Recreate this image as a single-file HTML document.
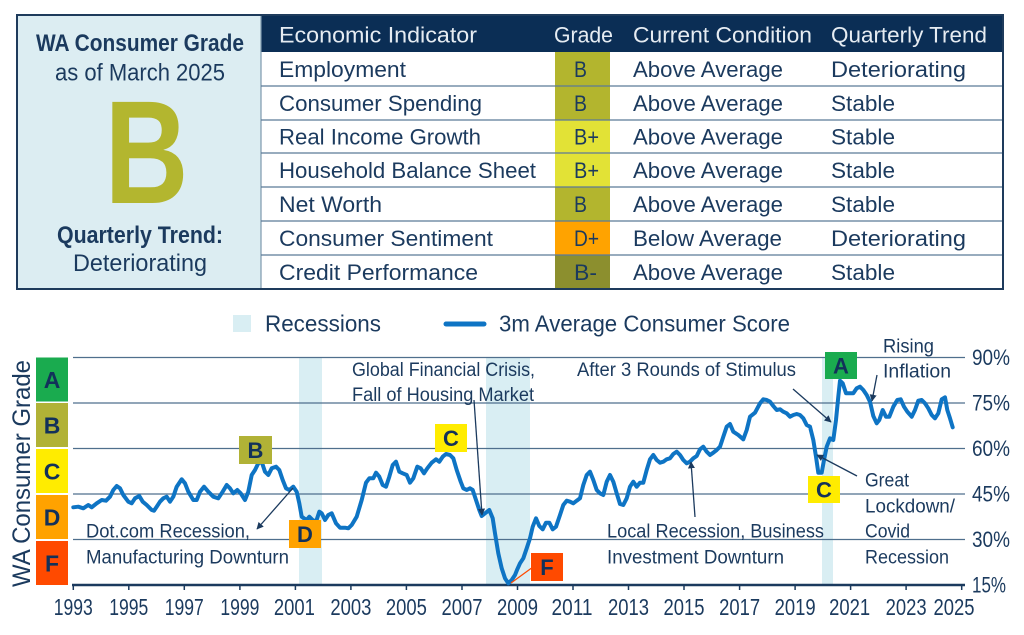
<!DOCTYPE html>
<html><head><meta charset="utf-8"><style>
html,body{margin:0;padding:0;background:#fff;}
svg{display:block;font-family:"Liberation Sans",sans-serif;}
</style></head><body>
<svg width="1024" height="635" viewBox="0 0 1024 635" xmlns="http://www.w3.org/2000/svg">
<defs>
<marker id="ah" viewBox="0 0 10 10" refX="9" refY="5" markerWidth="7" markerHeight="7" orient="auto" markerUnits="userSpaceOnUse">
<path d="M0,0 L10,5 L0,10 z" fill="#1b3a5e"/>
</marker>
</defs>
<!-- TOP BOX -->
<rect x="18" y="16" width="243" height="272" fill="#dcedf2"/>
<rect x="261" y="15" width="742" height="37" fill="#0b2e55"/>
<line x1="261" y1="16" x2="261" y2="288" stroke="#7d98ad" stroke-width="1.2"/>
<g fill="#b3b52e">
<rect x="555" y="52" width="55" height="34"/>
<rect x="555" y="86" width="55" height="34"/>
<rect x="555" y="187" width="55" height="34"/>
</g>
<rect x="555" y="120" width="55" height="67" fill="#e2e236"/>
<rect x="555" y="221" width="55" height="34" fill="#ffa300"/>
<rect x="555" y="255" width="55" height="34" fill="#8c8f2e"/>
<g stroke="#5b7a98" stroke-width="1.3">
<line x1="261" y1="86" x2="1003" y2="86"/>
<line x1="261" y1="120" x2="1003" y2="120"/>
<line x1="261" y1="153" x2="1003" y2="153"/>
<line x1="261" y1="187" x2="1003" y2="187"/>
<line x1="261" y1="221" x2="1003" y2="221"/>
<line x1="261" y1="255" x2="1003" y2="255"/>
</g>
<rect x="17" y="15" width="986" height="274" fill="none" stroke="#1e3b5c" stroke-width="2"/>

<g fill="#1b3a5e" text-anchor="middle" font-size="24">
<text x="140" y="51" font-weight="bold" textLength="208" lengthAdjust="spacingAndGlyphs">WA Consumer Grade</text>
<text x="140" y="80.5" textLength="170" lengthAdjust="spacingAndGlyphs">as of March 2025</text>
<text x="140" y="243" font-weight="bold" textLength="166" lengthAdjust="spacingAndGlyphs">Quarterly Trend:</text>
<text x="140" y="271" textLength="134" lengthAdjust="spacingAndGlyphs">Deteriorating</text>
</g>
<text transform="translate(146.5,203) scale(0.79,1)" x="0" y="0" text-anchor="middle" font-size="147" font-weight="bold" fill="#b3b62f">B</text>

<g fill="#e6ecf2" font-size="22">
<text x="279" y="42.5" textLength="198" lengthAdjust="spacingAndGlyphs">Economic Indicator</text>
<text x="554" y="42.5" textLength="59" lengthAdjust="spacingAndGlyphs">Grade</text>
<text x="633" y="42.5" textLength="179" lengthAdjust="spacingAndGlyphs">Current Condition</text>
<text x="831" y="42.5" textLength="156" lengthAdjust="spacingAndGlyphs">Quarterly Trend</text>
</g>
<g fill="#1b3a5e" font-size="22">
<text x="279" y="77" textLength="127" lengthAdjust="spacingAndGlyphs">Employment</text>
<text x="279" y="111" textLength="203" lengthAdjust="spacingAndGlyphs">Consumer Spending</text>
<text x="279" y="144.5" textLength="202" lengthAdjust="spacingAndGlyphs">Real Income Growth</text>
<text x="279" y="178" textLength="257" lengthAdjust="spacingAndGlyphs">Household Balance Sheet</text>
<text x="279" y="212" textLength="103" lengthAdjust="spacingAndGlyphs">Net Worth</text>
<text x="279" y="246" textLength="214" lengthAdjust="spacingAndGlyphs">Consumer Sentiment</text>
<text x="279" y="280" textLength="199" lengthAdjust="spacingAndGlyphs">Credit Performance</text>

<text x="574" y="77" textLength="13" lengthAdjust="spacingAndGlyphs">B</text>
<text x="574" y="111" textLength="13" lengthAdjust="spacingAndGlyphs">B</text>
<text x="574" y="144.5" textLength="25" lengthAdjust="spacingAndGlyphs">B+</text>
<text x="574" y="178" textLength="25" lengthAdjust="spacingAndGlyphs">B+</text>
<text x="574" y="212" textLength="13" lengthAdjust="spacingAndGlyphs">B</text>
<text x="574" y="246" textLength="25" lengthAdjust="spacingAndGlyphs">D+</text>
<text x="574" y="280" textLength="23" lengthAdjust="spacingAndGlyphs">B-</text>

<text x="633" y="77" textLength="150" lengthAdjust="spacingAndGlyphs">Above Average</text>
<text x="633" y="111" textLength="150" lengthAdjust="spacingAndGlyphs">Above Average</text>
<text x="633" y="144.5" textLength="150" lengthAdjust="spacingAndGlyphs">Above Average</text>
<text x="633" y="178" textLength="150" lengthAdjust="spacingAndGlyphs">Above Average</text>
<text x="633" y="212" textLength="150" lengthAdjust="spacingAndGlyphs">Above Average</text>
<text x="633" y="246" textLength="149" lengthAdjust="spacingAndGlyphs">Below Average</text>
<text x="633" y="280" textLength="150" lengthAdjust="spacingAndGlyphs">Above Average</text>

<text x="831" y="77" textLength="135" lengthAdjust="spacingAndGlyphs">Deteriorating</text>
<text x="831" y="111" textLength="64" lengthAdjust="spacingAndGlyphs">Stable</text>
<text x="831" y="144.5" textLength="64" lengthAdjust="spacingAndGlyphs">Stable</text>
<text x="831" y="178" textLength="64" lengthAdjust="spacingAndGlyphs">Stable</text>
<text x="831" y="212" textLength="64" lengthAdjust="spacingAndGlyphs">Stable</text>
<text x="831" y="246" textLength="135" lengthAdjust="spacingAndGlyphs">Deteriorating</text>
<text x="831" y="280" textLength="64" lengthAdjust="spacingAndGlyphs">Stable</text>
</g>

<!-- LEGEND -->
<rect x="233" y="315" width="18" height="17" fill="#d9eef3"/>
<text x="265" y="331.5" font-size="23" fill="#1b3a5e" textLength="116" lengthAdjust="spacingAndGlyphs">Recessions</text>
<line x1="446" y1="324" x2="484" y2="324" stroke="#0e74c4" stroke-width="5" stroke-linecap="round"/>
<text x="499" y="331.5" font-size="23" fill="#1b3a5e" textLength="291" lengthAdjust="spacingAndGlyphs">3m Average Consumer Score</text>

<!-- CHART -->
<g fill="#d9eef3">
<rect x="299" y="357" width="23" height="228"/>
<rect x="486" y="357" width="44" height="228"/>
<rect x="822" y="357" width="11" height="228"/>
</g>
<g stroke="#4f6f8d" stroke-width="1.2">
<line x1="73" y1="357.5" x2="965" y2="357.5"/>
<line x1="73" y1="403" x2="965" y2="403"/>
<line x1="73" y1="448.5" x2="965" y2="448.5"/>
<line x1="73" y1="494" x2="965" y2="494"/>
<line x1="73" y1="539.5" x2="965" y2="539.5"/>
</g>
<line x1="72" y1="585" x2="965" y2="585" stroke="#1b3a5e" stroke-width="2.5"/>
<g stroke="#1b3a5e" stroke-width="1.5">
<line x1="73.3" y1="585" x2="73.3" y2="590"/>
<line x1="128.8" y1="585" x2="128.8" y2="590"/>
<line x1="184.3" y1="585" x2="184.3" y2="590"/>
<line x1="239.9" y1="585" x2="239.9" y2="590"/>
<line x1="295.4" y1="585" x2="295.4" y2="590"/>
<line x1="350.9" y1="585" x2="350.9" y2="590"/>
<line x1="406.4" y1="585" x2="406.4" y2="590"/>
<line x1="462" y1="585" x2="462" y2="590"/>
<line x1="517.5" y1="585" x2="517.5" y2="590"/>
<line x1="573" y1="585" x2="573" y2="590"/>
<line x1="628.5" y1="585" x2="628.5" y2="590"/>
<line x1="684" y1="585" x2="684" y2="590"/>
<line x1="739.6" y1="585" x2="739.6" y2="590"/>
<line x1="795.1" y1="585" x2="795.1" y2="590"/>
<line x1="850.6" y1="585" x2="850.6" y2="590"/>
<line x1="906.1" y1="585" x2="906.1" y2="590"/>
<line x1="961.7" y1="585" x2="961.7" y2="590"/>
</g>
<g fill="#1b3a5e" font-size="23" text-anchor="middle">
<text x="73.3" y="615" textLength="39" lengthAdjust="spacingAndGlyphs">1993</text>
<text x="128.8" y="615" textLength="39" lengthAdjust="spacingAndGlyphs">1995</text>
<text x="184.3" y="615" textLength="39" lengthAdjust="spacingAndGlyphs">1997</text>
<text x="239.9" y="615" textLength="39" lengthAdjust="spacingAndGlyphs">1999</text>
<text x="294.4" y="615" textLength="41" lengthAdjust="spacingAndGlyphs">2001</text>
<text x="350.9" y="615" textLength="41" lengthAdjust="spacingAndGlyphs">2003</text>
<text x="406.4" y="615" textLength="41" lengthAdjust="spacingAndGlyphs">2005</text>
<text x="462" y="615" textLength="41" lengthAdjust="spacingAndGlyphs">2007</text>
<text x="517.5" y="615" textLength="41" lengthAdjust="spacingAndGlyphs">2009</text>
<text x="572" y="615" textLength="41" lengthAdjust="spacingAndGlyphs">2011</text>
<text x="628.5" y="615" textLength="41" lengthAdjust="spacingAndGlyphs">2013</text>
<text x="684" y="615" textLength="41" lengthAdjust="spacingAndGlyphs">2015</text>
<text x="739.6" y="615" textLength="41" lengthAdjust="spacingAndGlyphs">2017</text>
<text x="795.1" y="615" textLength="41" lengthAdjust="spacingAndGlyphs">2019</text>
<text x="849.6" y="615" textLength="41" lengthAdjust="spacingAndGlyphs">2021</text>
<text x="906.1" y="615" textLength="41" lengthAdjust="spacingAndGlyphs">2023</text>
<text x="954" y="615" textLength="41" lengthAdjust="spacingAndGlyphs">2025</text>
</g>
<g fill="#1b3a5e" font-size="22">
<text x="972" y="365" textLength="38" lengthAdjust="spacingAndGlyphs">90%</text>
<text x="972" y="410.5" textLength="38" lengthAdjust="spacingAndGlyphs">75%</text>
<text x="972" y="456" textLength="38" lengthAdjust="spacingAndGlyphs">60%</text>
<text x="972" y="501.5" textLength="38" lengthAdjust="spacingAndGlyphs">45%</text>
<text x="972" y="547" textLength="38" lengthAdjust="spacingAndGlyphs">30%</text>
<text x="972" y="592.5" textLength="34" lengthAdjust="spacingAndGlyphs">15%</text>
</g>

<!-- Y title -->
<text transform="translate(30,473.5) rotate(-90)" x="0" y="0" text-anchor="middle" font-size="25" fill="#1b3a5e" textLength="227" lengthAdjust="spacingAndGlyphs">WA Consumer Grade</text>

<!-- Grade bands -->
<rect x="36" y="357.5" width="32" height="44" fill="#1aab4f"/>
<rect x="36" y="403" width="32" height="44" fill="#b1b236"/>
<rect x="36" y="449" width="32" height="44" fill="#ffec00"/>
<rect x="36" y="495" width="32" height="44" fill="#ffa200"/>
<rect x="36" y="541" width="32" height="44" fill="#ff4a00"/>
<g fill="#12315a" font-size="23" font-weight="bold" text-anchor="middle">
<text x="52" y="388">A</text>
<text x="52" y="433.5">B</text>
<text x="52" y="479.5">C</text>
<text x="52" y="525.5">D</text>
<text x="52" y="571.5">F</text>
</g>

<!-- Series -->
<polyline fill="none" stroke="#0e74c4" stroke-width="4" stroke-linejoin="round" stroke-linecap="round" points="73.3,507.3 78.3,506.7 83.3,508.3 88.3,505 91.7,507.3 96.7,503.3 101.7,500 106,500.7 110,496.7 113.3,490 116.7,486 120,488.3 123.3,495 128.3,501.7 131.7,503.3 135,498.3 139.3,496 142.7,501.7 146.7,505 151.7,510 154,510.7 156.7,506.7 160,501.7 163.3,498.3 166.7,496.7 170,501.7 173.3,496.7 176.7,486.7 181.7,479.3 185,483.3 188.3,491.7 193.3,500 196.7,500 200,491.7 204,486.7 208.3,491.7 213.3,496.7 218.3,498.3 222.7,491.7 226.7,485 230,488.3 233.3,493.3 237.3,490 240.7,493.3 245,500 248.3,491.7 251.7,475 255,470 258.3,463.3 261.7,461.7 265,471.7 268.3,475 271.7,468.3 276,466.7 279.3,470 282.7,480 286,488.3 289.3,490 293.3,486.7 296.7,491.7 299.3,503.3 301.7,516.7 304,518.3 306.7,520 309.3,516.7 312.7,520 316,521.7 319.3,511.7 321.7,513.3 325,520 328.3,515 331.7,513.3 336,523.3 340,527.7 345,527.7 348.3,528.3 351.7,525 356.7,516.7 361.7,500 366,482.7 369.3,478.3 373.3,478.3 376,472.7 379.3,476.7 382.7,485 386,486.7 389.3,476.7 392.7,465 396,461.7 399.3,471.7 402.7,473.3 406.7,475 410,482.7 413.3,478.3 417.3,466.7 420.7,468.3 424,473.3 427.3,468.3 431.7,462.7 436,459.3 439.3,461.7 442.7,456.7 446,454 450,455 453.3,458.3 456.7,470 460.7,481.7 463.3,488.3 466.7,490 470,488.3 472.7,490 476,500 479.3,510 481.7,516 485,513.3 489.3,510 492.7,518.3 495,533.3 498.3,553.3 501.7,568.3 505,578.3 508.3,583.3 511.7,580 515,575 517.3,569.3 520,563.3 523.3,558.3 526.7,548.3 530,538.3 532.7,526.7 536,518.3 539.3,526 542.7,529.3 546,522.7 549.3,522.7 552.7,529.3 556,526.7 560,515 563.3,505 566.7,500.7 570,501.7 573.3,503.3 576.7,500.7 580,498.3 583.3,485 586.7,475 590,471.7 593.3,480 596.7,490 600,493.3 603.3,495 606.7,481.7 610,475 613.3,481.7 616.7,493.3 620,504 623.3,505 626.7,498.3 630,486.7 633.3,481.7 636.7,486.7 640,482.7 643.3,482.7 646.7,470 650,459.3 653.3,455 656.7,460 660,462.7 663.3,461.7 666.7,459.3 670,458.3 673.3,454 676.7,451.7 680,455 683.3,460 686.7,463.3 690,461.7 693.3,458.3 696.7,456 700,449.3 703.3,446.7 706.7,451.7 710,455 713.3,452.7 716.7,450 720,446.7 723.3,436.7 726.7,426.7 730,424 733.3,431.7 738.3,435 743.3,439.3 746.7,430 750,416.7 755,412.7 760,403.3 763.3,399.3 766.7,400 770,401.7 773.3,406 776.7,410 780,409.3 783.3,411.7 786.7,413.3 790,416.7 793.3,415 796.7,414 800,415 803.3,418.3 806.7,425 810,426.7 813.3,440 816,456.7 818.3,472.7 821.7,472.7 824,460 826.7,446.7 830,438.3 833.3,440 836,420 838.3,396.7 840,380.7 842.7,383.3 846,393.3 850,393.3 853.3,393.3 856.7,388.3 860,386.7 863.3,390 866.7,395 870,401.7 873.3,416 876.7,423.3 879.3,420 882.7,410 886,416.7 889.3,416.7 893.3,406.7 897.3,400 900.7,399.3 904,406.7 907.3,411.7 911.7,416.7 915,410 918.3,400.7 921.7,400 925,403.3 928.3,408.3 931.7,415 935,418.3 938.3,413.3 941.7,399.3 945,397.3 947.3,410 950,418.3 952.7,427.3"/>

<!-- Annotation boxes -->
<rect x="239" y="436" width="33" height="28" fill="#b1b236"/>
<rect x="289" y="520" width="32" height="28" fill="#ffa200"/>
<rect x="435" y="424" width="32" height="28" fill="#ffec00"/>
<rect x="531" y="553" width="32" height="28" fill="#ff4a00"/>
<rect x="825" y="352" width="32" height="27" fill="#1aab4f"/>
<rect x="808" y="476" width="32" height="27" fill="#ffec00"/>
<g fill="#12315a" font-size="22" font-weight="bold" text-anchor="middle">
<text x="255.5" y="458">B</text>
<text x="305" y="542">D</text>
<text x="451" y="446">C</text>
<text x="547" y="575">F</text>
<text x="841" y="373.5">A</text>
<text x="824" y="497.5">C</text>
</g>

<!-- Arrows -->
<g stroke="#1b3a5e" stroke-width="1.3" fill="none">
<line x1="293" y1="488" x2="257" y2="529" marker-end="url(#ah)"/>
<line x1="474" y1="400" x2="482" y2="515" marker-end="url(#ah)"/>
<line x1="695" y1="517" x2="691" y2="462" marker-end="url(#ah)"/>
<line x1="793" y1="389" x2="831" y2="422" marker-end="url(#ah)"/>
<line x1="877" y1="375" x2="872" y2="401" marker-end="url(#ah)"/>
<line x1="857" y1="476" x2="817" y2="455" marker-end="url(#ah)"/>
</g>
<line x1="533" y1="567" x2="511" y2="583" stroke="#ff4a00" stroke-width="1.3"/>

<!-- Annotation text -->
<g fill="#1b3a5e" font-size="19">
<text x="86" y="537.5" textLength="164" lengthAdjust="spacingAndGlyphs">Dot.com Recession,</text>
<text x="86" y="563.5" textLength="203" lengthAdjust="spacingAndGlyphs">Manufacturing Downturn</text>
<text x="352" y="376" textLength="183" lengthAdjust="spacingAndGlyphs">Global Financial Crisis,</text>
<text x="352" y="401" textLength="182" lengthAdjust="spacingAndGlyphs">Fall of Housing Market</text>
<text x="577" y="376" textLength="219" lengthAdjust="spacingAndGlyphs">After 3 Rounds of Stimulus</text>
<text x="607" y="537.5" textLength="217" lengthAdjust="spacingAndGlyphs">Local Recession, Business</text>
<text x="607" y="563.5" textLength="177" lengthAdjust="spacingAndGlyphs">Investment Downturn</text>
<text x="883" y="352.5" textLength="51" lengthAdjust="spacingAndGlyphs">Rising</text>
<text x="883" y="377.5" textLength="68" lengthAdjust="spacingAndGlyphs">Inflation</text>
<text x="865" y="486.5" textLength="44" lengthAdjust="spacingAndGlyphs">Great</text>
<text x="865" y="512.5" textLength="90" lengthAdjust="spacingAndGlyphs">Lockdown/</text>
<text x="865" y="537.5" textLength="45" lengthAdjust="spacingAndGlyphs">Covid</text>
<text x="865" y="563.5" textLength="84" lengthAdjust="spacingAndGlyphs">Recession</text>
</g>
</svg>
</body></html>
